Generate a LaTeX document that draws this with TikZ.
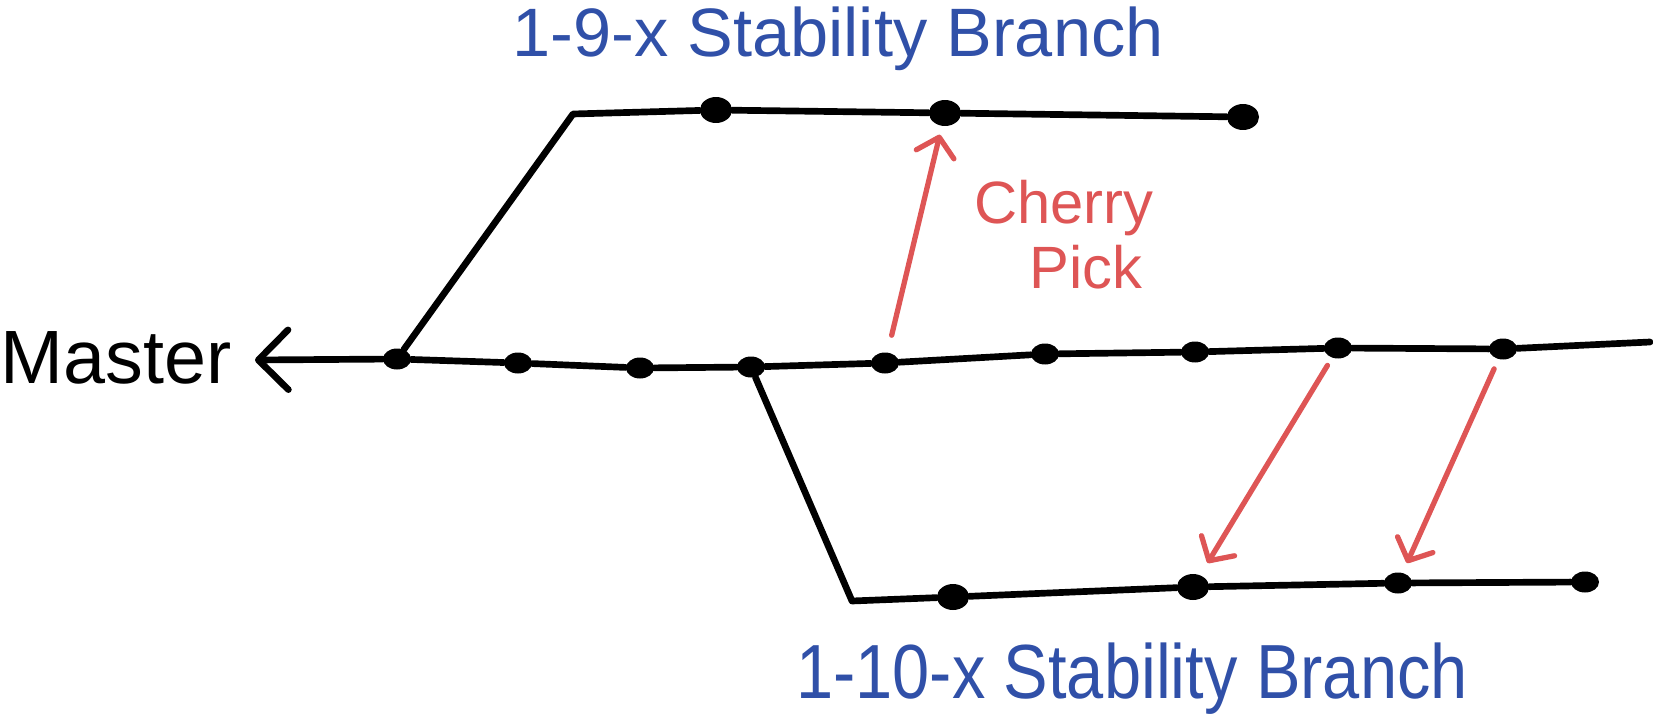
\documentclass[tikz,border=0pt]{standalone}
\usepackage{fontspec}
\usepackage{graphicx}
\setmainfont{Liberation Sans}
\usetikzlibrary{arrows.meta,shapes.geometric}
\definecolor{inkblue}{RGB}{48,80,168}
\definecolor{inkred}{RGB}{222,85,85}
\begin{document}
\begin{tikzpicture}[x=0.02cm,y=-0.02cm,
  gitline/.style={line width=3.8pt, line cap=round, line join=round},
  dot/.style={ellipse, fill=black, inner sep=0pt, minimum width=0.56cm, minimum height=0.42cm},
  bigdot/.style={dot, minimum width=0.64cm, minimum height=0.52cm},
  cpick/.style={draw=inkred, line width=3pt, line cap=round, line join=round, -{Straight Barb[length=10pt,width=22pt,round]}},
  lbl/.style={text=inkblue, inner sep=0pt, anchor=base},
  redlbl/.style={text=inkred, inner sep=0pt, anchor=base, font=\fontsize{34}{40}\selectfont}
]
\useasboundingbox (0,0) rectangle (1653,723);

% master commits
\node[dot] (m1) at (397,359) {};
\node[dot] (m2) at (518,363) {};
\node[dot] (m3) at (640,368) {};
\node[dot] (m4) at (751,367) {};
\node[dot] (m5) at (885,363) {};
\node[dot] (m6) at (1045,354) {};
\node[dot] (m7) at (1195,352) {};
\node[dot] (m8) at (1338,348) {};
\node[dot] (m9) at (1503,349) {};
\coordinate (mend) at (1650,342);
\coordinate (mtip) at (255,360);

% 1-9-x branch
\coordinate (t0) at (573,114);
\node[bigdot] (t1) at (716,110) {};
\node[bigdot] (t2) at (945,113) {};
\node[bigdot] (t3) at (1243,117) {};

% 1-10-x branch
\coordinate (b0) at (852,601);
\node[bigdot] (b1) at (953,597) {};
\node[bigdot] (b2) at (1193,587) {};
\node[dot] (b3) at (1398,583) {};
\node[dot] (b4) at (1585,582) {};

% lines
\draw[gitline] (m1) -- (m2) -- (m3) -- (m4) -- (m5) -- (m6) -- (m7) -- (m8) -- (m9) -- (mend);
\draw[gitline, -{Straight Barb[length=17pt,width=34pt,round]}] (m1) -- (mtip);
\draw[gitline] (m1) -- (t0) -- (t1) -- (t2) -- (t3);
\draw[gitline] (m4) -- (b0) -- (b1) -- (b2) -- (b3) -- (b4);

% cherry picks
\draw[cpick, shorten <=10pt, shorten >=5pt] (m5) -- (t2);
\draw[cpick, shorten <=5pt, shorten >=8pt] (m8) -- (b2);
\draw[cpick, shorten <=6pt, shorten >=6pt] (m9) -- (b3);

% labels
\node[font=\fontsize{43}{50}\selectfont, anchor=base west, inner sep=0pt] (master) at (0,383) {Master};
\node[lbl, font=\fontsize{39}{44}\selectfont] (toplbl) at (838,57) {1-9-x Stability Branch};
\node[lbl, font=\fontsize{38}{44}\selectfont] (botlbl) at (1132,698) {\scalebox{1}[1.15]{1-10-x Stability Branch}};
\node[redlbl] (cherry) at (1064,223) {Cherry};
\node[redlbl] (picklbl) at (1086,288) {Pick};
\end{tikzpicture}
\end{document}
